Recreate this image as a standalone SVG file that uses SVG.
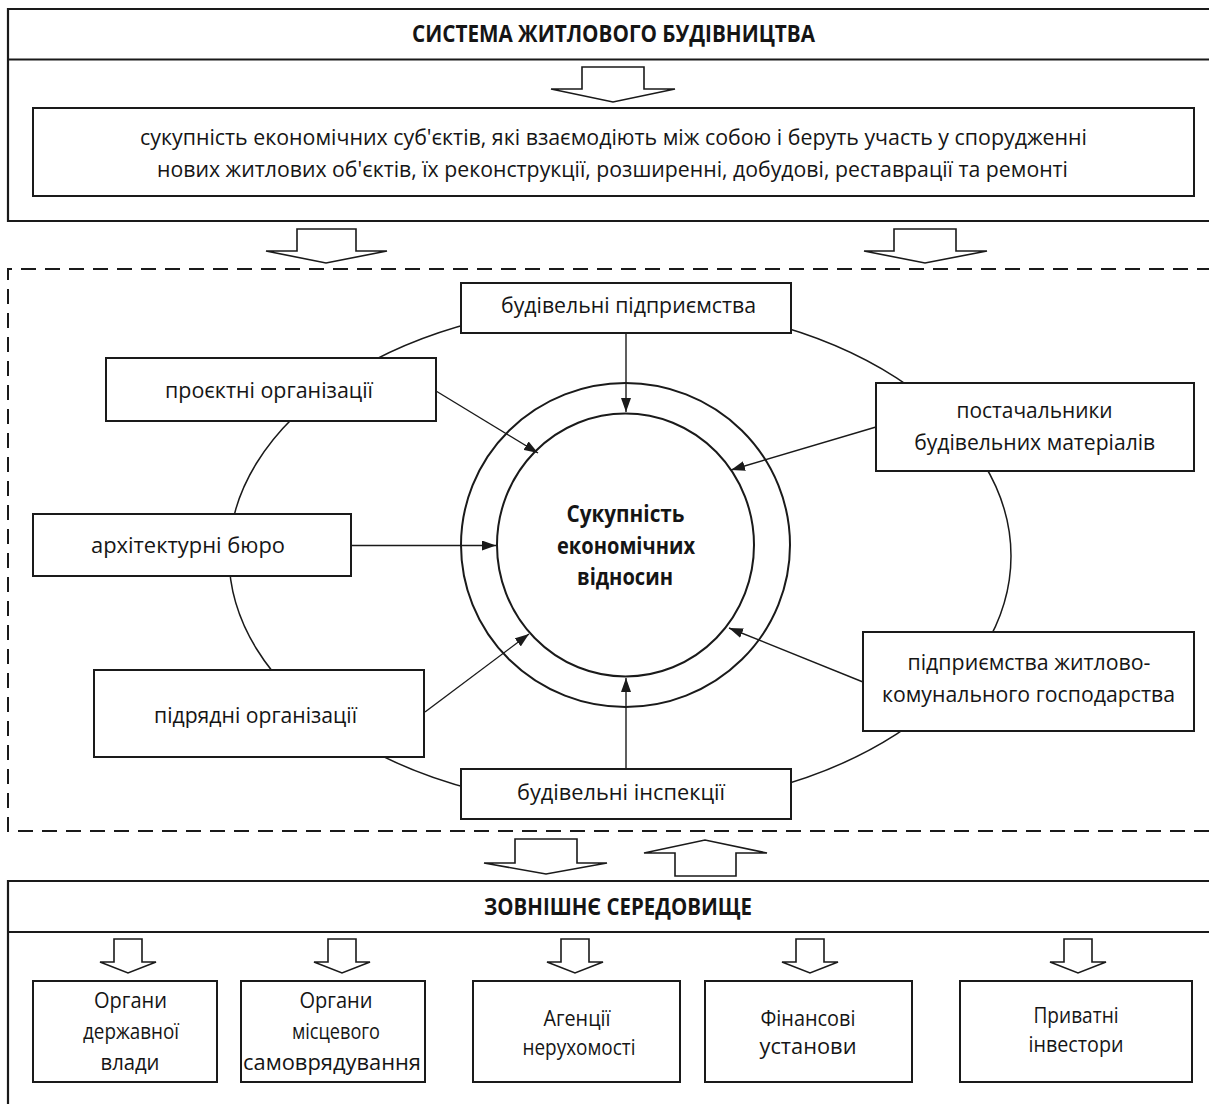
<svg xmlns="http://www.w3.org/2000/svg" width="1209" height="1104" viewBox="0 0 1209 1104">
<style>
.box{fill:#fff;stroke:#1a1a1a;stroke-width:2}
.t{font-family:"Open Sans","Noto Sans","DejaVu Sans",sans-serif;font-size:22px;fill:#151515;text-anchor:middle}
.b{font-weight:bold;font-size:23px}
.conn{stroke:#1a1a1a;stroke-width:1.4;fill:none}
.hollow{fill:#fff;stroke:#1a1a1a;stroke-width:1.6;stroke-linejoin:miter}
.frame{fill:none;stroke:#1a1a1a;stroke-width:2.2}
.dash{fill:none;stroke:#1a1a1a;stroke-width:2;stroke-dasharray:15 9}
.ring{fill:none;stroke:#1a1a1a;stroke-width:1.5}
.circ{fill:none;stroke:#1a1a1a;stroke-width:2}
</style>
<defs>
<marker id="ah" markerWidth="14" markerHeight="10" refX="14" refY="5" orient="auto" markerUnits="userSpaceOnUse"><path d="M0,0 L14,5 L0,10 z" fill="#1a1a1a"/></marker>
</defs>

<g id="system">
<path class="frame" d="M1212,9 H8 V221 H1212"/>
<path class="frame" d="M8,59.5 H1212"/>
<text class="t b" x="613.5" y="42" textLength="403" lengthAdjust="spacingAndGlyphs">СИСТЕМА ЖИТЛОВОГО БУДІВНИЦТВА</text>
</g>

<g id="definition">
<rect class="box" x="33" y="108" width="1161" height="88"/>
<text class="t" x="613.5" y="145" textLength="947" lengthAdjust="spacingAndGlyphs">сукупність економічних суб'єктів, які взаємодіють між собою і беруть участь у спорудженні</text>
<text class="t" x="612.5" y="176.5" textLength="911" lengthAdjust="spacingAndGlyphs">нових житлових об'єктів, їх реконструкції, розширенні, добудові, реставрації та ремонті</text>
</g>

<g id="subjects-frame">
<path class="dash" d="M1212,269 H8 V831 H1212"/>
</g>

<g id="ring">
<ellipse class="ring" cx="620" cy="556" rx="391" ry="252"/>
</g>

<g id="center">
<ellipse class="circ" cx="625.5" cy="545" rx="164.5" ry="162"/>
<ellipse class="circ" cx="625.5" cy="545" rx="128.5" ry="131.5"/>
<text class="t b" x="625.5" y="522" textLength="118" lengthAdjust="spacingAndGlyphs">Сукупність</text>
<text class="t b" x="626" y="553.5" textLength="138" lengthAdjust="spacingAndGlyphs">економічних</text>
<text class="t b" x="625" y="585" textLength="96" lengthAdjust="spacingAndGlyphs">відносин</text>
</g>

<g id="connectors">
<path class="conn" d="M626,333 V412" marker-end="url(#ah)"/>
<path class="conn" d="M436,391 L538,453" marker-end="url(#ah)"/>
<path class="conn" d="M351,545.5 H496" marker-end="url(#ah)"/>
<path class="conn" d="M425,712 L529,634" marker-end="url(#ah)"/>
<path class="conn" d="M626,769 V678" marker-end="url(#ah)"/>
<path class="conn" d="M876,427 L731,470" marker-end="url(#ah)"/>
<path class="conn" d="M863,682 L729,628" marker-end="url(#ah)"/>
<path class="hollow" d="M582,67 H644 V89 H675 L613,102 L551,89 H582 Z"/>
<path class="hollow" d="M297,229 H356 V251 H387 L326,263 L266,251 H297 Z"/>
<path class="hollow" d="M894,229 H956 V251 H987 L925,263 L864,251 H894 Z"/>
<path class="hollow" d="M515,839 H577 V863 H607 L546,874 L484,863 H515 Z"/>
<path class="hollow" d="M675,876 V853 H644 L705,840 L767,853 H736 V876 Z"/>
<path class="hollow" d="M114,939 H142 V962 H156 L128,973 L100,962 H114 Z"/>
<path class="hollow" d="M328,939 H356 V962 H370 L342,973 L314,962 H328 Z"/>
<path class="hollow" d="M561,939 H589 V962 H603 L575,973 L547,962 H561 Z"/>
<path class="hollow" d="M796,939 H824 V962 H838 L810,973 L782,962 H796 Z"/>
<path class="hollow" d="M1064,939 H1092 V962 H1106 L1078,973 L1050,962 H1064 Z"/>
</g>

<g id="n-budpidpr">
<rect class="box" x="461" y="283" width="330" height="50"/>
<text class="t" x="628.5" y="313" textLength="255" lengthAdjust="spacingAndGlyphs">будівельні підприємства</text>
</g>
<g id="n-proekt">
<rect class="box" x="106" y="358" width="330" height="63"/>
<text class="t" x="269" y="398" textLength="208" lengthAdjust="spacingAndGlyphs">проєктні організації</text>
</g>
<g id="n-postach">
<rect class="box" x="876" y="383" width="318" height="88"/>
<text class="t" x="1034.5" y="418" textLength="156" lengthAdjust="spacingAndGlyphs">постачальники</text>
<text class="t" x="1034.7" y="450" textLength="241" lengthAdjust="spacingAndGlyphs">будівельних матеріалів</text>
</g>
<g id="n-arch">
<rect class="box" x="33" y="514" width="318" height="62"/>
<text class="t" x="188" y="553" textLength="194" lengthAdjust="spacingAndGlyphs">архітектурні  бюро</text>
</g>
<g id="n-zhkg">
<rect class="box" x="863" y="632" width="331" height="99"/>
<text class="t" x="1029" y="670" textLength="243" lengthAdjust="spacingAndGlyphs">підприємства житлово-</text>
<text class="t" x="1028.5" y="702" textLength="293" lengthAdjust="spacingAndGlyphs">комунального господарства</text>
</g>
<g id="n-pidryad">
<rect class="box" x="94" y="670" width="330" height="87"/>
<text class="t" x="255.5" y="723" textLength="203" lengthAdjust="spacingAndGlyphs">підрядні організації</text>
</g>
<g id="n-inspek">
<rect class="box" x="461" y="769" width="330" height="50"/>
<text class="t" x="621" y="800" textLength="208" lengthAdjust="spacingAndGlyphs">будівельні інспекції</text>
</g>

<g id="environment">
<path class="frame" d="M1212,881 H8 V1110"/>
<path class="frame" d="M8,932 H1212"/>
<text class="t b" x="618" y="915" textLength="268" lengthAdjust="spacingAndGlyphs">ЗОВНІШНЄ СЕРЕДОВИЩЕ</text>
</g>

<g id="n-derzh">
<rect class="box" x="33" y="981" width="184" height="101"/>
<text class="t" x="130.5" y="1008" textLength="73" lengthAdjust="spacingAndGlyphs">Органи</text>
<text class="t" x="131" y="1039" textLength="96" lengthAdjust="spacingAndGlyphs">державної</text>
<text class="t" x="130" y="1070" textLength="59" lengthAdjust="spacingAndGlyphs">влади</text>
</g>
<g id="n-mists">
<rect class="box" x="241" y="981" width="184" height="101"/>
<text class="t" x="336" y="1008" textLength="73" lengthAdjust="spacingAndGlyphs">Органи</text>
<text class="t" x="336" y="1039" textLength="88" lengthAdjust="spacingAndGlyphs">місцевого</text>
<text class="t" x="332" y="1070" textLength="178" lengthAdjust="spacingAndGlyphs">самоврядування</text>
</g>
<g id="n-agents">
<rect class="box" x="473" y="981" width="207" height="101"/>
<text class="t" x="577" y="1026" textLength="67" lengthAdjust="spacingAndGlyphs">Агенції</text>
<text class="t" x="579" y="1055" textLength="113" lengthAdjust="spacingAndGlyphs">нерухомості</text>
</g>
<g id="n-fin">
<rect class="box" x="705" y="981" width="207" height="101"/>
<text class="t" x="808" y="1026" textLength="95" lengthAdjust="spacingAndGlyphs">Фінансові</text>
<text class="t" x="808" y="1054" textLength="97" lengthAdjust="spacingAndGlyphs">установи</text>
</g>
<g id="n-priv">
<rect class="box" x="960" y="981" width="232" height="101"/>
<text class="t" x="1076" y="1023" textLength="85" lengthAdjust="spacingAndGlyphs">Приватні</text>
<text class="t" x="1076" y="1052" textLength="95" lengthAdjust="spacingAndGlyphs">інвестори</text>
</g>
</svg>
